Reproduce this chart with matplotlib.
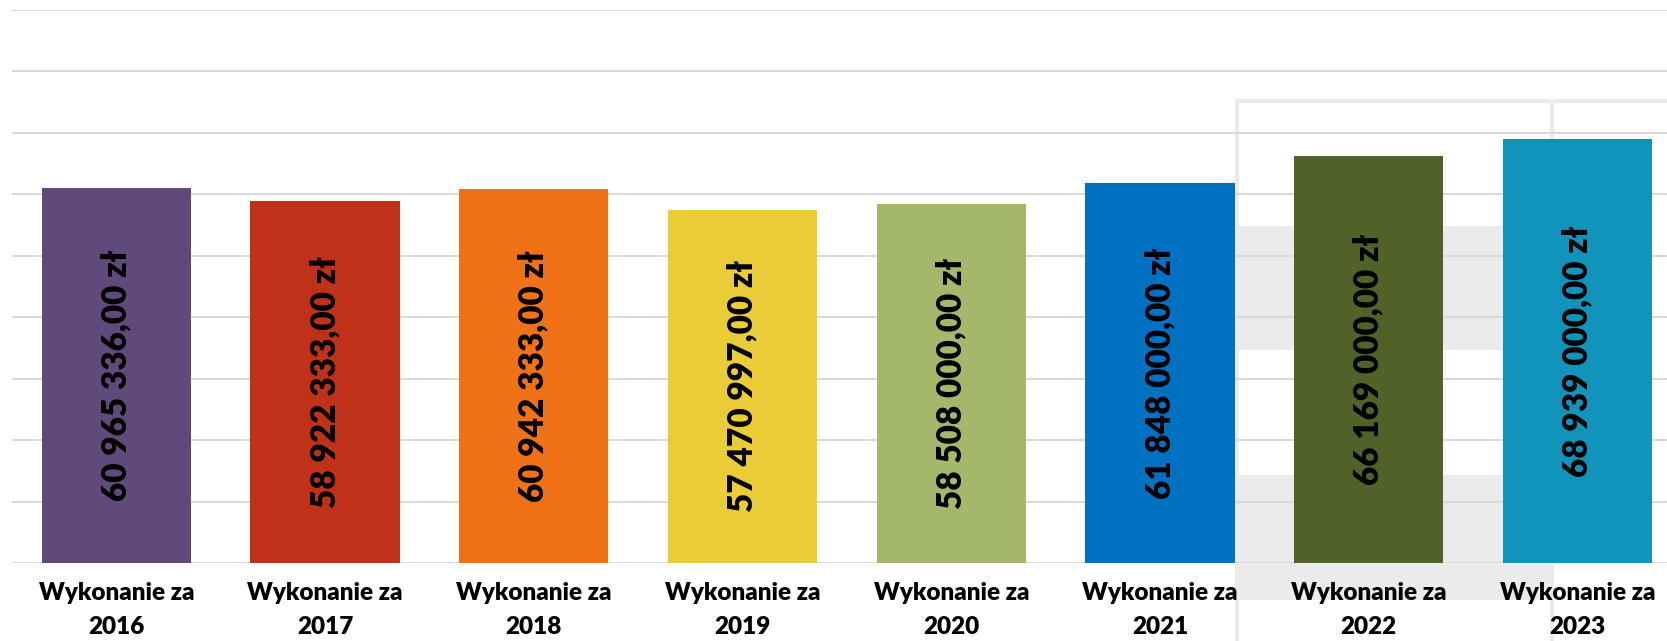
import matplotlib
matplotlib.use("Agg")
import matplotlib.pyplot as plt
from matplotlib.patches import Rectangle

# dane z wykresu
lata = ["2016", "2017", "2018", "2019", "2020", "2021", "2022", "2023"]
kwoty = [60965336, 58922333, 60942333, 57470997, 58508000, 61848000, 66169000, 68939000]
etykiety = ["60 965 336,00 zł", "58 922 333,00 zł", "60 942 333,00 zł", "57 470 997,00 zł",
            "58 508 000,00 zł", "61 848 000,00 zł", "66 169 000,00 zł", "68 939 000,00 zł"]
kolory = ["#604A7B", "#C0311A", "#F17116", "#EACB38", "#A3B86A", "#0070C0", "#4F6228", "#1094BC"]

W, H = 1667, 641
plt.rcParams['font.family'] = ['Lato', 'DejaVu Sans']

fig = plt.figure(figsize=(W / 100, H / 100), dpi=100)
ax = fig.add_axes([11.9 / W, 78 / H, 1670 / W, 553 / H])
ax.set_facecolor("none")


def fx(px):
    return px / W


def fy(py):
    return 1 - py / H


# znak wodny w tle (herb) - przyblizenie
szary = "#EBEBEB"
for y0, y1 in [(226, 350), (475, 600)]:
    ax.add_patch(Rectangle((fx(1237), fy(y1)), fx(1552) - fx(1237), fy(y0) - fy(y1),
                           transform=fig.transFigure, facecolor=szary, edgecolor="none",
                           zorder=0.1, clip_on=False))
ax.add_patch(Rectangle((fx(1237), fy(660)), fx(1700) - fx(1237), fy(101) - fy(660),
                       transform=fig.transFigure, facecolor="none", edgecolor="#EBEBEB",
                       linewidth=3, zorder=0.1, clip_on=False))
ax.plot([fx(1552), fx(1552)], [fy(101), fy(641)], transform=fig.transFigure,
        color="#EBEBEB", linewidth=3, zorder=0.1, clip_on=False)

x = range(len(lata))
ax.bar(x, kwoty, width=0.715, color=kolory, zorder=2)

for i, (v, t) in enumerate(zip(kwoty, etykiety)):
    ax.text(i, v / 2, t, rotation=90, ha="center", va="center",
            fontsize=24, fontweight="heavy", color="black", zorder=3)

ax.set_ylim(0, 90000000)
ax.set_xlim(-0.5, 7.5)
ax.set_yticks(range(0, 90000001, 10000000))
ax.yaxis.grid(True, color="#D9D9D9", linewidth=1.5)
ax.set_axisbelow(True)
ax.tick_params(axis="y", left=False, labelleft=False)
ax.set_xticks(list(x))
ax.set_xticklabels(["Wykonanie za\n" + r for r in lata], fontsize=17.5,
                   fontweight="heavy", linespacing=1.65)
ax.tick_params(axis="x", length=0, pad=14)
for s in ax.spines.values():
    s.set_visible(False)

fig.savefig("out.png", dpi=100)
